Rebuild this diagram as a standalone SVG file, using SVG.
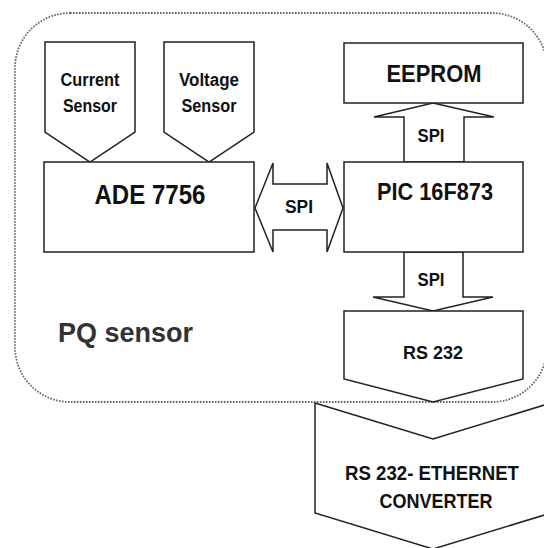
<svg xmlns="http://www.w3.org/2000/svg" width="544" height="548" viewBox="0 0 544 548">
<style>
.sh{fill:#fff;stroke:#222;stroke-width:1.5;stroke-linejoin:miter}
.t{font-family:"Liberation Sans",Arial,sans-serif;font-weight:bold;fill:#111;text-anchor:middle}
.bnd{fill:none;stroke:#666;stroke-width:1.8;stroke-dasharray:1.6 1.4}
</style>
<rect width="544" height="548" fill="#fff"/>
<g id="pq-sensor-boundary">
<rect class="bnd" x="15" y="13" width="532" height="389" rx="55" ry="55"/>
<text class="t" x="58" y="342" style="text-anchor:start;fill:#333" font-size="28" textLength="135" lengthAdjust="spacingAndGlyphs">PQ sensor</text>
</g>
<g id="connectors">
<g id="spi-ade-pic">
<polygon class="sh" points="255,208 273,163 273,184 327,184 327,163 343,208 327,252 327,230 273,230 273,252"/>
<text class="t" x="299" y="213" font-size="18" textLength="28" lengthAdjust="spacingAndGlyphs">SPI</text>
</g>
<g id="spi-pic-eeprom">
<polygon class="sh" points="433,103 494,117 464,117 464,162 404,162 404,117 374,117"/>
<text class="t" x="431" y="142" font-size="18" textLength="27" lengthAdjust="spacingAndGlyphs">SPI</text>
</g>
<g id="spi-pic-rs232">
<polygon class="sh" points="404,252 463,252 463,297 493,297 433,311 373,297 404,297"/>
<text class="t" x="431" y="286" font-size="18" textLength="27" lengthAdjust="spacingAndGlyphs">SPI</text>
</g>
</g>
<g id="current-sensor">
<polygon class="sh" points="45,42 135,42 135,132 90,162 45,132"/>
<text class="t" x="90" y="86" font-size="18" textLength="59" lengthAdjust="spacingAndGlyphs">Current</text>
<text class="t" x="90" y="112" font-size="18" textLength="54" lengthAdjust="spacingAndGlyphs">Sensor</text>
</g>
<g id="voltage-sensor">
<polygon class="sh" points="164,42 254,42 254,132 209,162 164,132"/>
<text class="t" x="209" y="86" font-size="18" textLength="60" lengthAdjust="spacingAndGlyphs">Voltage</text>
<text class="t" x="209" y="112" font-size="18" textLength="55" lengthAdjust="spacingAndGlyphs">Sensor</text>
</g>
<g id="ade7756">
<rect class="sh" x="44" y="162" width="210" height="90"/>
<text class="t" x="150" y="204" font-size="27" textLength="111" lengthAdjust="spacingAndGlyphs">ADE 7756</text>
</g>
<g id="eeprom">
<rect class="sh" x="344" y="43" width="179" height="60"/>
<text class="t" x="434" y="82" font-size="23" textLength="95" lengthAdjust="spacingAndGlyphs">EEPROM</text>
</g>
<g id="pic16f873">
<rect class="sh" x="344" y="162" width="179" height="90"/>
<text class="t" x="435" y="200" font-size="24" textLength="116" lengthAdjust="spacingAndGlyphs">PIC 16F873</text>
</g>
<g id="rs232">
<polygon class="sh" points="344,311 523,311 523,379 433,402 344,379"/>
<text class="t" x="433" y="359" font-size="19" textLength="60" lengthAdjust="spacingAndGlyphs">RS 232</text>
</g>
<g id="rs232-ethernet-converter">
<polygon class="sh" points="315,403 433,439 551,403 551,513 433,549 315,513"/>
<text class="t" x="432" y="480" font-size="20" textLength="174" lengthAdjust="spacingAndGlyphs">RS 232- ETHERNET</text>
<text class="t" x="436" y="508" font-size="20" textLength="113" lengthAdjust="spacingAndGlyphs">CONVERTER</text>
</g>
</svg>
